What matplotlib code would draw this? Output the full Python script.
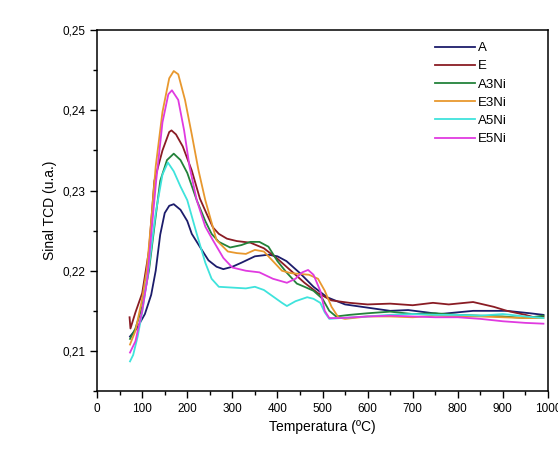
import matplotlib
matplotlib.use("Agg")
import matplotlib.pyplot as plt
from matplotlib.ticker import MultipleLocator, FuncFormatter

plt.rcParams['font.family'] = ['Liberation Sans', 'DejaVu Sans']

# ---------- data (temperature in ºC, TCD signal) ----------
a_temp = [73, 88, 106, 120, 130, 140, 150, 160, 170, 185, 200, 210, 230, 247, 265, 280,
          300, 320, 350, 380, 400, 420, 450, 480, 510, 550, 600, 650, 690, 760, 834, 909,
          960, 990]
a_sig = [0.2118, 0.2128, 0.2146, 0.2170, 0.2200, 0.2245, 0.2272, 0.2281, 0.2283, 0.2276,
         0.2262, 0.2246, 0.2228, 0.2213, 0.2205, 0.2202, 0.2205, 0.2210, 0.2218, 0.2220,
         0.2218, 0.2212, 0.2197, 0.2180, 0.2167, 0.2158, 0.2154, 0.2150, 0.2151, 0.2146,
         0.2150, 0.2150, 0.2147, 0.2145]

e_temp = [72, 74, 85, 100, 115, 127, 145, 160, 165, 175, 190, 210, 228, 243, 257, 270,
          288, 310, 340, 370, 400, 430, 460, 490, 520, 560, 600, 650, 700, 745, 780, 834,
          880, 909, 950, 975, 990]
e_sig = [0.2142, 0.2128, 0.2148, 0.2172, 0.2225, 0.2312, 0.2350, 0.2373, 0.2375, 0.2370,
         0.2355, 0.2325, 0.2290, 0.2271, 0.2254, 0.2246, 0.2240, 0.2237, 0.2235, 0.2228,
         0.2215, 0.2200, 0.2185, 0.2172, 0.2163, 0.2160, 0.2158, 0.2159, 0.2157, 0.2160,
         0.2158, 0.2161, 0.2155, 0.2150, 0.2145, 0.2141, 0.2143]

a3_temp = [73, 85, 100, 115, 130, 140, 155, 170, 185, 200, 221, 240, 254, 270, 295, 320,
           340, 360, 380, 400, 420, 443, 460, 480, 500, 515, 530, 560, 600, 650, 700, 750,
           800, 850, 900, 950, 990]
a3_sig = [0.2115, 0.2128, 0.2155, 0.2200, 0.2268, 0.2312, 0.2338, 0.2346, 0.2338, 0.2322,
          0.2288, 0.2262, 0.2246, 0.2236, 0.2229, 0.2232, 0.2236, 0.2236, 0.2230, 0.2212,
          0.2198, 0.2184, 0.2180, 0.2175, 0.2165, 0.2150, 0.2143, 0.2145, 0.2147, 0.2149,
          0.2146, 0.2147, 0.2145, 0.2144, 0.2143, 0.2141, 0.2144]

e3_temp = [73, 85, 100, 110, 120, 130, 145, 160, 170, 180, 195, 210, 225, 240, 265, 290,
           310, 330, 350, 370, 390, 410, 430, 450, 470, 490, 505, 520, 535, 550, 600, 650,
           700, 750, 800, 850, 900, 950, 990]
e3_sig = [0.2108, 0.2125, 0.2165, 0.2200, 0.2262, 0.2330, 0.2398, 0.2440, 0.2449, 0.2445,
          0.2413, 0.2370, 0.2325, 0.2288, 0.2238, 0.2224, 0.2222, 0.2221, 0.2226, 0.2224,
          0.2212, 0.2200, 0.2197, 0.2196, 0.2195, 0.2190, 0.2175, 0.2155, 0.2142, 0.2140,
          0.2143, 0.2143, 0.2142, 0.2144, 0.2143, 0.2143, 0.2142, 0.2141, 0.2141]

a5_temp = [73, 80, 90, 100, 115, 130, 145, 157, 170, 185, 200, 221, 240, 254, 270, 300,
           330, 350, 370, 390, 410, 421, 440, 466, 480, 495, 505, 515, 540, 600, 650, 700,
           750, 800, 850, 900, 950, 990]
a5_sig = [0.2087, 0.2095, 0.2118, 0.2148, 0.2205, 0.2272, 0.2320, 0.2335, 0.2324, 0.2305,
          0.2288, 0.2246, 0.2210, 0.2190, 0.2180, 0.2179, 0.2178, 0.2180, 0.2176, 0.2168,
          0.2160, 0.2156, 0.2162, 0.2167, 0.2165, 0.2160, 0.2148, 0.2140, 0.2141, 0.2143,
          0.2145, 0.2146, 0.2145, 0.2145, 0.2144, 0.2146, 0.2143, 0.2141]

e5_temp = [73, 85, 100, 111, 120, 131, 145, 158, 166, 180, 193, 205, 221, 240, 257, 280,
           300, 330, 360, 390, 421, 440, 455, 468, 480, 495, 505, 515, 540, 600, 650, 700,
           750, 800, 850, 900, 950, 990]
e5_sig = [0.2098, 0.2112, 0.2150, 0.2188, 0.2245, 0.2312, 0.2385, 0.2420, 0.2425, 0.2413,
          0.2375, 0.2330, 0.2288, 0.2255, 0.2238, 0.2216, 0.2204, 0.2200, 0.2198, 0.2190,
          0.2185, 0.2190, 0.2198, 0.2201, 0.2195, 0.2175, 0.2150, 0.2141, 0.2141, 0.2143,
          0.2144, 0.2143, 0.2142, 0.2142, 0.2140, 0.2137, 0.2135, 0.2134]

labels = ['A', 'E', 'A3Ni', 'E3Ni', 'A5Ni', 'E5Ni']
colors = ['#1c1c6b', '#8a1c24', '#23823a', '#e8982e', '#3fe3dc', '#e03ae0']

fig = plt.figure(figsize=(5.58, 4.50), dpi=100)
ax = fig.add_axes([0.174, 0.131, 0.808, 0.802])

series = [(a_temp, a_sig), (e_temp, e_sig), (a3_temp, a3_sig),
          (e3_temp, e3_sig), (a5_temp, a5_sig), (e5_temp, e5_sig)]
for (t, s), lab, c in zip(series, labels, colors):
    ax.plot(t, s, color=c, lw=1.3, label=lab)

ax.set_xlim(0, 1000)
ax.set_ylim(0.205, 0.25)
ax.xaxis.set_major_locator(MultipleLocator(100))
ax.xaxis.set_minor_locator(MultipleLocator(50))
ax.yaxis.set_major_locator(MultipleLocator(0.01))
ax.yaxis.set_minor_locator(MultipleLocator(0.005))
ax.yaxis.set_major_formatter(FuncFormatter(lambda v, p: f"{v:.2f}".replace('.', ',')))
ax.tick_params(which='major', direction='out', length=5, width=1, labelsize=8.5)
ax.tick_params(which='minor', direction='out', length=3, width=1)
for sp in ax.spines.values():
    sp.set_linewidth(1.1)

ax.set_xlabel('Temperatura (ºC)', fontsize=10)
ax.set_ylabel('Sinal TCD (u.a.)', fontsize=10)

ax.legend(loc='upper right', frameon=False, fontsize=9.5, handlelength=3.0,
          labelspacing=0.45, handletextpad=0.25, bbox_to_anchor=(0.935, 1.0))

fig.savefig('out.png', dpi=100)
